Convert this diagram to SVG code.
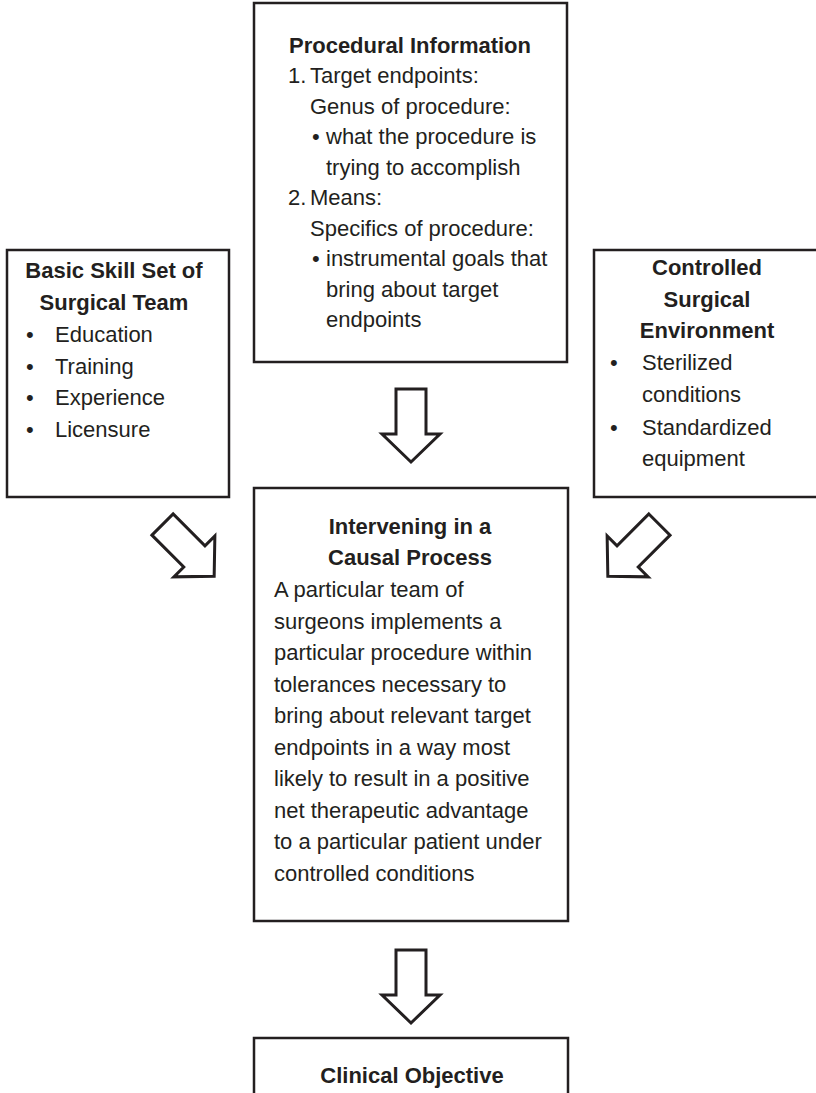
<svg xmlns="http://www.w3.org/2000/svg" width="816" height="1093" viewBox="0 0 816 1093">
<style>
.box{fill:#fff;stroke:#231f20;stroke-width:2.5}
.t{font-family:"Liberation Sans",Arial,sans-serif;font-size:22px;fill:#231f20}
.b{font-weight:bold}
.c{text-anchor:middle}
.arr{fill:#fff;stroke:#231f20;stroke-width:3;stroke-linejoin:miter}
</style>
<defs>
<path id="bigArrow" d="M -15,-36 L 15,-36 L 15,9 L 29,9 L 0,37 L -29,9 L -15,9 Z"/>
</defs>
<rect width="816" height="1093" fill="#fff"/>

<g id="procedural">
<rect class="box" x="254" y="3" width="313" height="359"/>
<text class="t b c" x="410" y="53">Procedural Information</text>
<text class="t" x="288" y="83">1.</text><text class="t" x="310" y="83">Target endpoints:</text>
<text class="t" x="310" y="113.5">Genus of procedure:</text>
<text class="t" x="312" y="144">•</text><text class="t" x="326" y="144">what the procedure is</text>
<text class="t" x="326" y="174.5">trying to accomplish</text>
<text class="t" x="288" y="205">2.</text><text class="t" x="310" y="205">Means:</text>
<text class="t" x="310" y="235.5">Specifics of procedure:</text>
<text class="t" x="312" y="266">•</text><text class="t" x="326" y="266">instrumental goals that</text>
<text class="t" x="326" y="296.5">bring about target</text>
<text class="t" x="326" y="327">endpoints</text>
</g>

<g id="skillset">
<rect class="box" x="7" y="250" width="222" height="247"/>
<text class="t b c" x="114" y="278">Basic Skill Set of</text>
<text class="t b c" x="114" y="310">Surgical Team</text>
<text class="t" x="26" y="342">•</text><text class="t" x="55" y="342">Education</text>
<text class="t" x="26" y="373.5">•</text><text class="t" x="55" y="373.5">Training</text>
<text class="t" x="26" y="405">•</text><text class="t" x="55" y="405">Experience</text>
<text class="t" x="26" y="436.5">•</text><text class="t" x="55" y="436.5">Licensure</text>
</g>

<g id="environment">
<rect class="box" x="594" y="250" width="226" height="247"/>
<text class="t b c" x="707" y="275">Controlled</text>
<text class="t b c" x="707" y="307">Surgical</text>
<text class="t b c" x="707" y="338">Environment</text>
<text class="t" x="610" y="370">•</text><text class="t" x="642" y="370">Sterilized</text>
<text class="t" x="642" y="402">conditions</text>
<text class="t" x="610" y="435">•</text><text class="t" x="642" y="435">Standardized</text>
<text class="t" x="642" y="466">equipment</text>
</g>

<g id="intervening">
<rect class="box" x="254" y="488" width="314" height="433"/>
<text class="t b c" x="410" y="534">Intervening in a</text>
<text class="t b c" x="410" y="565">Causal Process</text>
<text class="t" x="274" y="597">A particular team of</text>
<text class="t" x="274" y="628.5">surgeons implements a</text>
<text class="t" x="274" y="660">particular procedure within</text>
<text class="t" x="274" y="691.5">tolerances necessary to</text>
<text class="t" x="274" y="723">bring about relevant target</text>
<text class="t" x="274" y="754.5">endpoints in a way most</text>
<text class="t" x="274" y="786">likely to result in a positive</text>
<text class="t" x="274" y="817.5">net therapeutic advantage</text>
<text class="t" x="274" y="849">to a particular patient under</text>
<text class="t" x="274" y="880.5">controlled conditions</text>
</g>

<g id="clinical">
<rect class="box" x="254" y="1038" width="314" height="80"/>
<text class="t b c" x="412" y="1083">Clinical Objective</text>
</g>

<g id="connectors">
<use href="#bigArrow" class="arr" transform="translate(411,425)"/>
<use href="#bigArrow" class="arr" transform="translate(188,550) rotate(-45)"/>
<use href="#bigArrow" class="arr" transform="translate(634,550) rotate(45)"/>
<use href="#bigArrow" class="arr" transform="translate(411,986)"/>
</g>
</svg>
